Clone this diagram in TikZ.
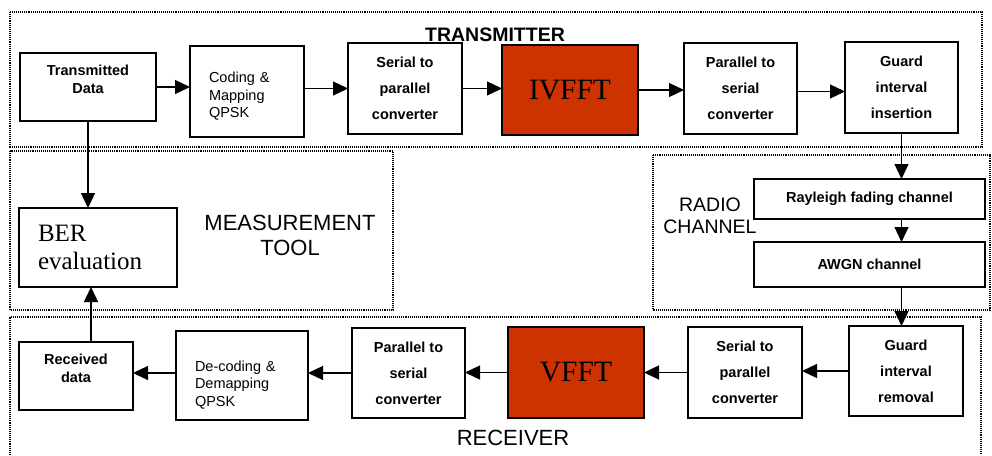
\documentclass[tikz,border=0pt]{standalone}
\usepackage{fontspec}
\setmainfont{Liberation Sans}
\newfontfamily\serfont{Liberation Serif}
\usetikzlibrary{arrows.meta}
\definecolor{fftred}{RGB}{204,51,0}
\begin{document}
\begin{tikzpicture}[x=1pt,y=-1pt,
  blk/.style={draw, line width=1.6pt, inner sep=0pt, outer sep=0pt, align=center,
    font=\bfseries\fontsize{14.5}{26}\selectfont},
  blk2/.style={blk, font=\bfseries\fontsize{14.5}{18}\selectfont, text depth=15pt},
  plainblk/.style={draw, line width=1.6pt, inner sep=0pt, outer sep=0pt, align=left,
    font=\fontsize{14.5}{17.5}\selectfont},
  fftblk/.style={draw, line width=1.6pt, inner sep=0pt, outer sep=0pt, fill=fftred,
    font=\serfont\fontsize{29.5}{32}\selectfont},
  frame/.style={line width=1.1pt, dash pattern=on 1.1pt off 1pt},
  arr/.style={line width=1.3pt, -{Triangle[length=15pt,width=14pt]}}
]
\useasboundingbox (0,0) rectangle (992,455);

% frames
\draw[frame] (10,12) rectangle (982,147);
\draw[frame] (10,151) rectangle (393,310);
\draw[frame] (653,155) rectangle (990,310);
\draw[frame] (10,455) -- (10,317) -- (981,317) -- (981,455);

% labels
\node[font=\bfseries\fontsize{19.5}{22}\selectfont] (ttx) at (495,34.5) {TRANSMITTER};
\node[font=\fontsize{22}{25}\selectfont, align=center] (tmeas) at (290,235) {MEASUREMENT\\TOOL};
\node[font=\fontsize{19.5}{22.5}\selectfont, align=center] (trad) at (710,216) {RADIO\\CHANNEL};
\node[font=\fontsize{22}{25}\selectfont] (trx) at (513,438) {RECEIVER};

% transmitter
\node[blk2, minimum width=136, minimum height=68] (td) at (88,87) {Transmitted\\Data};
\node[plainblk, minimum width=114, minimum height=91, text width=76pt, text height=20pt] (cod) at (247,91.5) {Coding \&\\Mapping\\QPSK};
\node[blk, minimum width=114, minimum height=91] (s2p) at (405,88.5) {Serial to\\parallel\\converter};
\node[fftblk, minimum width=136, minimum height=90] (ivfft) at (570,90) {IVFFT};
\node[blk, minimum width=113, minimum height=91] (p2s) at (740.5,88.5) {Parallel to\\serial\\converter};
\node[blk, minimum width=113, minimum height=91] (gi) at (901.5,87.5) {Guard\\interval\\insertion};

% radio channel
\node[blk, minimum width=231, minimum height=40] (ray) at (869.5,199) {Rayleigh fading channel};
\node[blk, minimum width=231, minimum height=45] (awgn) at (869.5,264.5) {AWGN channel};

% measurement
\node[draw, line width=1.6pt, inner sep=0pt, outer sep=0pt, align=left,
  minimum width=158, minimum height=79, text width=120pt,
  font=\serfont\fontsize{25}{28}\selectfont] (ber) at (98,247.5) {BER\\evaluation};

% receiver
\node[blk2, minimum width=114, minimum height=68] (rd) at (76,376) {Received\\data};
\node[plainblk, minimum width=132, minimum height=89, text width=94pt, text height=29pt] (dec) at (242,375.5) {De-coding \&\\Demapping\\QPSK};
\node[blk, minimum width=113, minimum height=90] (p2sr) at (408.5,373) {Parallel to\\serial\\converter};
\node[fftblk, minimum width=136, minimum height=91] (vfft) at (576,372.5) {VFFT};
\node[blk, minimum width=114, minimum height=91] (s2pr) at (745,372.5) {Serial to\\parallel\\converter};
\node[blk, minimum width=114, minimum height=90] (grem) at (906,371) {Guard\\interval\\removal};

% transmitter arrows
\draw[arr] (td.east) -- (td.east -| cod.west);
\draw[arr] (cod.east |- s2p.center) -- (s2p.west);
\draw[arr] (s2p.east) -- (s2p.east -| ivfft.west);
\draw[arr] (ivfft.east) -- (ivfft.east -| p2s.west);
\draw[arr] ([yshift=-3pt]p2s.east) -- ([yshift=-3pt]p2s.east -| gi.west);

% channel arrows
\draw[arr] (gi.south) -- (gi.south |- ray.north);
\draw[arr] (gi.south |- ray.south) -- (gi.south |- awgn.north);
\draw[arr] (gi.south |- awgn.south) -- (gi.south |- grem.north);

% receiver arrows
\draw[arr] (grem.west) -- (grem.west -| s2pr.east);
\draw[arr] (s2pr.west) -- (s2pr.west -| vfft.east);
\draw[arr] (vfft.west) -- (vfft.west -| p2sr.east);
\draw[arr] (p2sr.west) -- (p2sr.west -| dec.east);
\draw[arr] (dec.west |- p2sr.west) -- (p2sr.west -| rd.east);

% measurement arrows
\draw[arr] (td.south) -- (td.south |- ber.north);
\draw[arr] ([xshift=3pt]td.south |- rd.north) -- ([xshift=3pt]td.south |- ber.south);
\end{tikzpicture}
\end{document}
